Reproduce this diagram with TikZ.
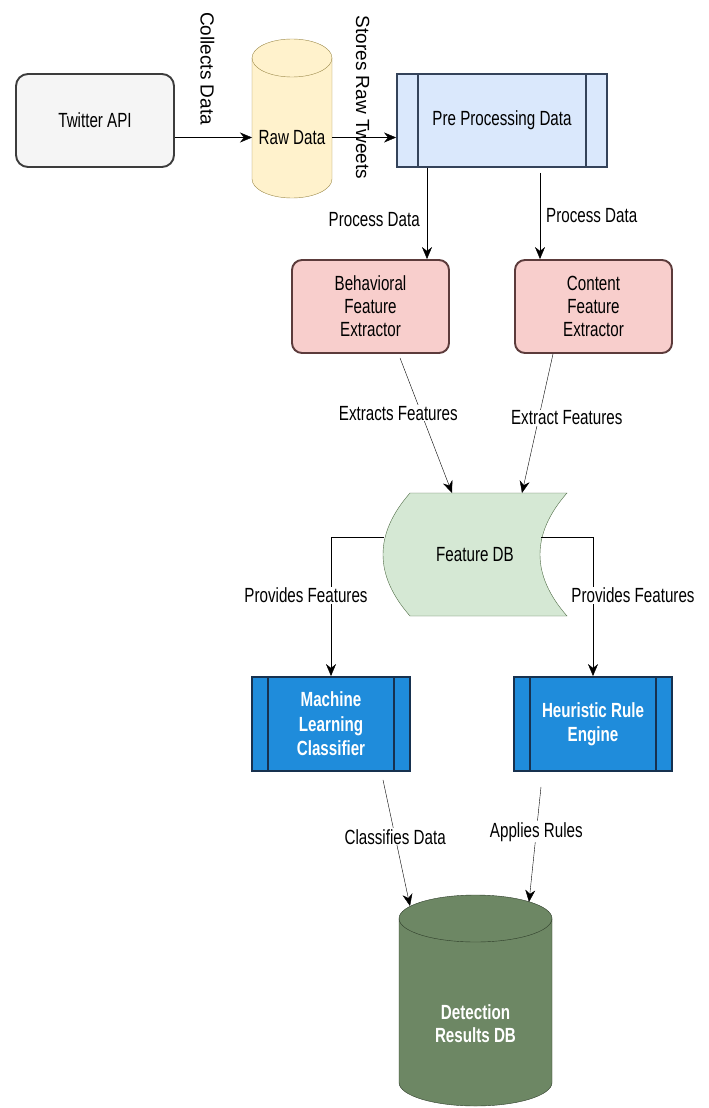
\documentclass[tikz,border=0pt]{standalone}
\usepackage{fontspec}
\setmainfont{Liberation Sans}[FakeStretch=0.74]
\newfontfamily\upfont{Liberation Sans}
\usepackage{tikz}
\usetikzlibrary{
	arrows.meta,
	calc
}
\pgfdeclarelayer{bg}
\pgfsetlayers{bg,main}

\definecolor{apifill}{HTML}{F5F5F5}
\definecolor{apiline}{HTML}{3C3C3C}
\definecolor{rawfill}{HTML}{FFF2CC}
\definecolor{rawline}{HTML}{9C8A4A}
\definecolor{prefill}{HTML}{DAE8FC}
\definecolor{preline}{HTML}{34435A}
\definecolor{extfill}{HTML}{F8CECC}
\definecolor{extline}{HTML}{5C3B3B}
\definecolor{fdbfill}{HTML}{D5E8D4}
\definecolor{fdbline}{HTML}{4F6B45}
\definecolor{engfill}{HTML}{1F8CDB}
\definecolor{engline}{HTML}{17314F}
\definecolor{detfill}{HTML}{6D8764}
\definecolor{detline}{HTML}{2E3D29}

% database can drawn round a node that holds the body
\newcommand{\drawdb}[4]{%
	\draw[#4] ([yshift=#3]#1.north west) -- ([yshift=#3]#1.south west)
		arc[start angle=180,end angle=360,x radius=#2,y radius=#3]
		-- ([yshift=#3]#1.north east)
		arc[start angle=0,end angle=180,x radius=#2,y radius=#3] -- cycle;
	\draw[#4,fill=none] ([yshift=#3]#1.north west)
		arc[start angle=180,end angle=360,x radius=#2,y radius=#3];}

\begin{document}
\begin{tikzpicture}[
		x=1pt, y=-1pt,
		line width=1.9pt,
		font=\fontsize{20.5}{23}\selectfont,
		flow/.style={-{Stealth[length=12pt,width=10pt]}},
		lbl/.style={fill=white, inner sep=1pt},
		tag/.style={inner sep=1pt},
		rotlbl/.style={rotate=-90, inner sep=0pt, font=\upfont\fontsize{19}{23}\selectfont},
		box/.style={draw, align=center, minimum width=158pt, minimum height=93pt, inner sep=2pt},
		sidebars/.style 2 args={path picture={
			\draw[#1,line width=1.9pt]
				([xshift=#2]path picture bounding box.north west) -- ([xshift=#2]path picture bounding box.south west)
				([xshift=-#2]path picture bounding box.north east) -- ([xshift=-#2]path picture bounding box.south east);}},
		api/.style={box, fill=apifill, draw=apiline, rounded corners=12pt},
		prebox/.style={box, minimum width=210pt, fill=prefill, draw=preline, sidebars={preline}{21pt}},
		extractor/.style={box, minimum width=157pt, fill=extfill, draw=extline, rounded corners=10pt},
		engine/.style={box, minimum height=94pt, fill=engfill, draw=engline, text=white,
			font=\bfseries\fontsize{20.5}{24.5}\selectfont, sidebars={engline}{16pt}},
		dbbody/.style={align=center, inner sep=2pt, outer sep=0pt},
		rawdb/.style={fill=rawfill, draw=rawline},
		detdb/.style={fill=detfill, draw=detline},
		fdbshape/.style={fill=fdbfill, draw=fdbline}
	]
	\useasboundingbox (0,0) rectangle (709,1108);

	\node[api]                 (twitter) at (95,120.5)   {Twitter API};
	\node[dbbody, minimum width=80pt, minimum height=121pt] (raw) at (292,137.5) {Raw Data};
	\node[prebox]              (pre)     at (502,120.5)  {Pre Processing Data};
	\node[extractor]           (beh)     at (370.5,306.5) {Behavioral\\Feature\\Extractor};
	\node[extractor]           (cont)    at (593.5,306.5) {Content\\Feature\\Extractor};
	\node[dbbody, minimum width=184pt, minimum height=123pt] (fdb) at (475,554.5) {Feature DB};
	\node[engine]              (ml)      at (331,724)    {Machine\\Learning\\Classifier};
	\node[engine]              (heur)    at (593,724)    {Heuristic Rule\\Engine};
	\node[dbbody, minimum width=153pt, minimum height=164pt, text=white,
		font=\bfseries\fontsize{20.5}{23}\selectfont] (det) at (475.5,1024) {Detection\\Results DB};

	\coordinate (fdbw) at ([xshift=1pt,yshift=17.5pt]fdb.west);
	\coordinate (fdbe) at ([xshift=-26pt,yshift=17.5pt]fdb.east);

	\begin{pgfonlayer}{bg}
		\drawdb{raw}{40pt}{19pt}{rawdb}
		\drawdb{det}{76.5pt}{23.5pt}{detdb}
		\draw[fdbshape] ([xshift=27pt]fdb.north west) -- (fdb.north east)
			.. controls ([xshift=-36pt,yshift=-41pt]fdb.north east) and ([xshift=-36pt,yshift=41pt]fdb.south east) .. (fdb.south east)
			-- ([xshift=27pt]fdb.south west)
			.. controls ([xshift=-9pt,yshift=41pt]fdb.south west) and ([xshift=-9pt,yshift=-41pt]fdb.north west) .. ([xshift=27pt]fdb.north west)
			-- cycle;
	\end{pgfonlayer}

	\draw[flow] (twitter.east |- raw.west) -- node[pos=.42, yshift=69pt, rotlbl] (collects) {Collects Data} (raw.west);
	\draw[flow] (raw.east) -- node[pos=.48, yshift=40pt, rotlbl] (stores) {Stores Raw Tweets} (pre.west |- raw.east);

	\draw[flow] ([xshift=-75pt]pre.south) -- node[tag, left=6pt, pos=.57] (proc1) {Process Data} ([xshift=-75pt]pre.south |- beh.north);
	\draw[flow] ([xshift=38pt,yshift=-5pt]pre.south) -- node[tag, right=5pt, pos=.5] (proc2) {Process Data} ([xshift=38pt]pre.south |- cont.north);

	\draw[flow] ([xshift=29.5pt,yshift=-4pt]beh.south) -- node[lbl, pos=.41, xshift=-23pt] (ext1) {Extracts Features} ([xshift=-23pt]fdb.north);
	\draw[flow] ([xshift=-40.5pt]cont.south) -- node[lbl, pos=.46, xshift=28pt] (ext2) {Extract Features} ([xshift=47pt]fdb.north);

	\draw[flow] (fdbw) -| node[lbl, pos=.71, xshift=-25pt] (prov1) {Provides Features} (ml.north);
	\draw[flow] (fdbe) -| node[lbl, pos=.71, xshift=40pt] (prov2) {Provides Features} (heur.north);

	\draw[flow] ([xshift=52pt,yshift=-8pt]ml.south) -- node[lbl, pos=.45] (cls) {Classifies Data} ([xshift=-65.5pt,yshift=36pt]det.north);
	\draw[flow] ([xshift=-52pt,yshift=-15pt]heur.south) -- node[lbl, pos=.39] (rules) {Applies Rules} ([xshift=53.5pt,yshift=40pt]det.north);
\end{tikzpicture}
\end{document}
